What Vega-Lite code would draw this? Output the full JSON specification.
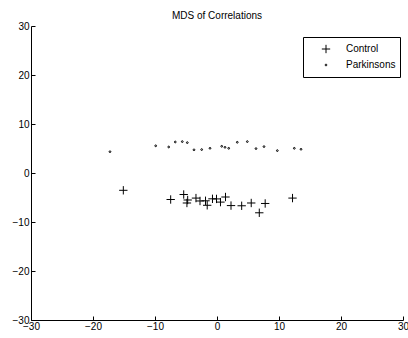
{
  "$schema": "https://vega.github.io/schema/vega-lite/v6.json",
  "autosize": "none",
  "padding": {"left": 31, "top": 26, "right": 5, "bottom": 18},
  "width": 372,
  "height": 294,
  "background": "white",
  "config": {
    "font": "Liberation Sans",
    "view": {"stroke": null},
    "axis": {"grid": false, "domainColor": "black", "tickColor": "black", "labelColor": "black", "labelFontSize": 10, "tickSize": -4, "labelOverlap": false, "labelBound": false, "labelFlush": false, "domainWidth": 1, "tickWidth": 1}
  },
  "title": {"text": "MDS of Correlations", "fontSize": 10, "fontWeight": "normal", "color": "black", "anchor": "middle", "offset": 0},
  "data": {
    "values": [
      {"x": -17.26, "y": 4.35, "group": "Parkinsons"},
      {"x": -9.89, "y": 5.55, "group": "Parkinsons"},
      {"x": -7.79, "y": 5.31, "group": "Parkinsons"},
      {"x": -6.73, "y": 6.33, "group": "Parkinsons"},
      {"x": -5.6, "y": 6.41, "group": "Parkinsons"},
      {"x": -4.79, "y": 6.2, "group": "Parkinsons"},
      {"x": -3.71, "y": 4.73, "group": "Parkinsons"},
      {"x": -2.47, "y": 4.78, "group": "Parkinsons"},
      {"x": -1.13, "y": 5.04, "group": "Parkinsons"},
      {"x": 0.76, "y": 5.45, "group": "Parkinsons"},
      {"x": 1.29, "y": 5.24, "group": "Parkinsons"},
      {"x": 1.89, "y": 5.04, "group": "Parkinsons"},
      {"x": 3.27, "y": 6.27, "group": "Parkinsons"},
      {"x": 4.89, "y": 6.41, "group": "Parkinsons"},
      {"x": 6.29, "y": 4.98, "group": "Parkinsons"},
      {"x": 7.58, "y": 5.39, "group": "Parkinsons"},
      {"x": 9.73, "y": 4.57, "group": "Parkinsons"},
      {"x": 12.47, "y": 5.04, "group": "Parkinsons"},
      {"x": 13.55, "y": 4.84, "group": "Parkinsons"},
      {"x": -15.11, "y": -3.53, "group": "Control"},
      {"x": -7.47, "y": -5.41, "group": "Control"},
      {"x": -5.37, "y": -4.39, "group": "Control"},
      {"x": -4.73, "y": -5.51, "group": "Control"},
      {"x": -4.85, "y": -6.12, "group": "Control"},
      {"x": -3.39, "y": -5.12, "group": "Control"},
      {"x": -2.74, "y": -5.71, "group": "Control"},
      {"x": -1.85, "y": -5.67, "group": "Control"},
      {"x": -1.58, "y": -6.59, "group": "Control"},
      {"x": -0.73, "y": -5.27, "group": "Control"},
      {"x": -0.08, "y": -5.29, "group": "Control"},
      {"x": 0.56, "y": -5.94, "group": "Control"},
      {"x": 1.37, "y": -4.9, "group": "Control"},
      {"x": 2.26, "y": -6.65, "group": "Control"},
      {"x": 3.98, "y": -6.69, "group": "Control"},
      {"x": 5.52, "y": -6.12, "group": "Control"},
      {"x": 6.82, "y": -8.12, "group": "Control"},
      {"x": 7.77, "y": -6.22, "group": "Control"},
      {"x": 12.18, "y": -5.12, "group": "Control"}
    ]
  },
  "mark": {"type": "point", "filled": false, "color": "black", "strokeWidth": 1, "opacity": 1},
  "encoding": {
    "x": {"field": "x", "type": "quantitative", "scale": {"domain": [-30, 30], "nice": false, "zero": false},
      "axis": {"title": null, "values": [-30, -20, -10, 0, 10, 20, 30], "labelPadding": 5}},
    "y": {"field": "y", "type": "quantitative", "scale": {"domain": [-30, 30], "nice": false, "zero": false},
      "axis": {"title": null, "values": [-30, -20, -10, 0, 10, 20, 30], "labelPadding": 6}},
    "shape": {"field": "group", "type": "nominal",
      "scale": {"domain": ["Control", "Parkinsons"], "range": ["M-1,0H1M0,-1V1", "circle"]},
      "legend": {"title": null, "orient": "none", "legendX": 272, "legendY": 11, "strokeColor": "black", "fillColor": "white", "padding": 4, "rowPadding": -2, "clipHeight": 16, "symbolOffset": 14, "labelOffset": 15, "labelFontSize": 10, "labelColor": "black", "symbolStrokeColor": "black", "symbolStrokeWidth": 1}},
    "size": {"field": "group", "type": "nominal",
      "scale": {"domain": ["Control", "Parkinsons"], "range": [70, 3]},
      "legend": {"title": null, "orient": "none", "legendX": 272, "legendY": 11, "strokeColor": "black", "fillColor": "white", "padding": 4, "rowPadding": -2, "clipHeight": 16, "symbolOffset": 14, "labelOffset": 15, "labelFontSize": 10, "labelColor": "black", "symbolStrokeColor": "black", "symbolStrokeWidth": 1}}
  }
}
